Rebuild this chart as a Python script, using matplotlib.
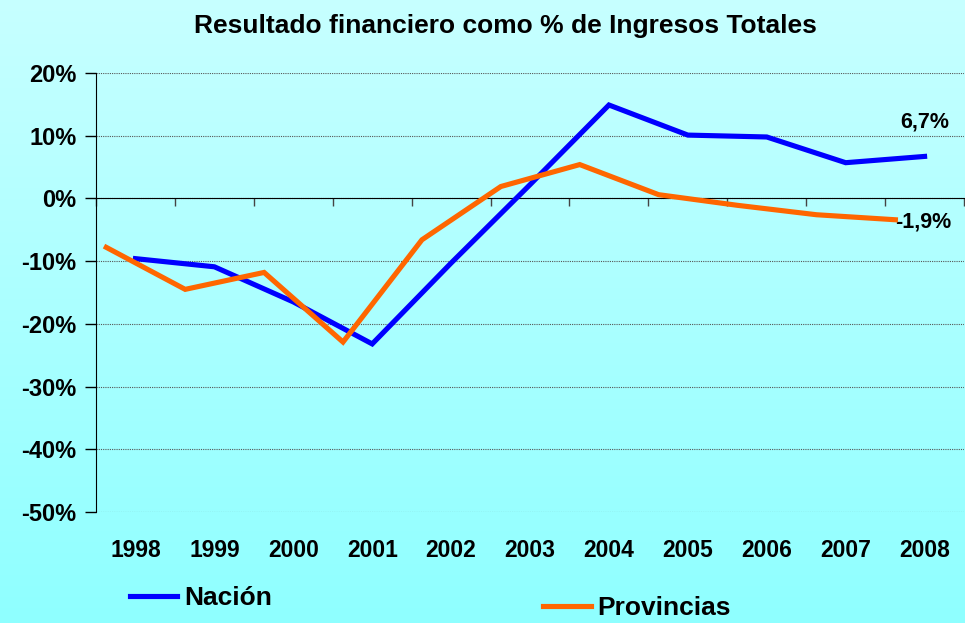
import numpy as np
import matplotlib
matplotlib.use("Agg")
import matplotlib.pyplot as plt
import matplotlib.transforms as mtransforms

plt.rcParams['font.family'] = ['Liberation Sans', 'DejaVu Sans']

years = ['1998', '1999', '2000', '2001', '2002', '2003',
         '2004', '2005', '2006', '2007', '2008']
nacion = [-9.6, -10.9, -16.5, -23.2, -10.3, 2.2, 14.9, 10.1, 9.8, 5.7, 6.7]
provincias = [-7.8, -14.5, -11.8, -22.9, -6.6, 1.9, 5.4, 0.6, -1.1, -2.6, -3.4]
yticks = [20, 10, 0, -10, -20, -30, -40, -50]
label_nacion = '6,7%'
label_prov = '-1,9%'

fig = plt.figure(figsize=(9.65, 6.23), dpi=100)

# background gradient
bg = fig.add_axes([0, 0, 1, 1], zorder=-10)
grad = np.linspace(0, 1, 256).reshape(-1, 1)
top = np.array([0.78, 1.0, 1.0])
bot = np.array([0.56, 1.0, 1.0])
img = top + (bot - top) * grad[:, :, None]
bg.imshow(img, aspect='auto', extent=[0, 1, 0, 1])
bg.set_axis_off()

ax = fig.add_axes([0.0995, 0.1782, 0.8995, 0.7046])
ax.set_facecolor('none')

x = np.arange(len(years))
# the Provincias series sits a bit left of the category centres in the original
shift = 0.37
ln1, = ax.plot(x, nacion, color='#0000FF', lw=3.7, solid_joinstyle='miter', zorder=3)
ln2, = ax.plot(x - shift, provincias, color='#FF6600', lw=3.7, solid_joinstyle='miter', zorder=4)

ax.set_xlim(-0.5, len(years) - 0.5)
ax.set_ylim(-50, 20)

ax.set_yticks(yticks)
ax.set_yticklabels([f'{v}%' for v in yticks], fontsize=17, fontweight='bold')
ax.tick_params(axis='y', length=8, width=1, pad=6, direction='out')

ax.spines['bottom'].set_position(('data', 0))
ax.spines['top'].set_visible(False)
ax.spines['right'].set_visible(False)
ax.set_xticks(np.arange(-0.5, len(years), 1.0))
ax.set_xticklabels([])
ax.tick_params(axis='x', length=6, width=1, direction='out', color='#444444')

ax.yaxis.grid(True, linestyle=(0, (1, 1)), color='#555555', lw=0.8)
ax.set_axisbelow(True)

trans = mtransforms.blended_transform_factory(ax.transData, ax.transAxes)
for i, yr in enumerate(years):
    ax.text(i, -0.087, yr, transform=trans, ha='center', va='center',
            fontsize=16.5, fontweight='bold')

ax.text(x[-1], 12.2, label_nacion, ha='center', va='center',
        fontsize=15.5, fontweight='bold')
ax.text(x[-1] - shift, -3.7, label_prov, ha='left', va='center',
        fontsize=15.5, fontweight='bold')

fig.text(0.524, 0.947, 'Resultado financiero como % de Ingresos Totales',
         ha='center', va='baseline', fontsize=19, fontweight='bold')

leg1 = fig.legend([ln1], ['Nación'], loc='center left',
                  bbox_to_anchor=(0.1347, 0.0401), frameon=False,
                  borderpad=0, borderaxespad=0, handlelength=1.8,
                  handletextpad=0.25, prop={'size': 19, 'weight': 'bold'})
leg2 = fig.legend([ln2], ['Provincias'], loc='center left',
                  bbox_to_anchor=(0.5627, 0.0241), frameon=False,
                  borderpad=0, borderaxespad=0, handlelength=1.8,
                  handletextpad=0.25, prop={'size': 19, 'weight': 'bold'})

fig.savefig('out.png', dpi=100)
